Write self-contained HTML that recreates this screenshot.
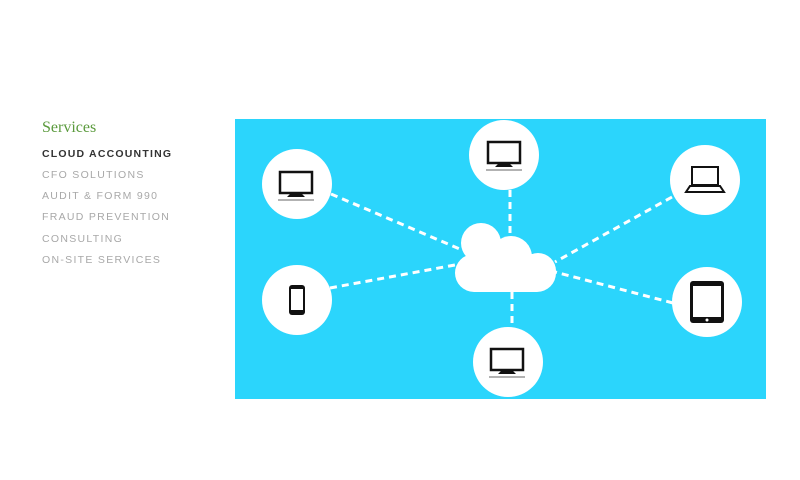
<!DOCTYPE html>
<html><head><meta charset="utf-8"><style>
html,body{margin:0;padding:0;background:#fff;width:800px;height:480px;overflow:hidden;font-family:"Liberation Sans",sans-serif}
.t{position:absolute;left:42px;top:119px;font-family:"Liberation Serif",serif;color:#5a9a3c;font-size:16px}
.m{position:absolute;left:42px;font-size:10.5px;letter-spacing:1.3px;color:#a8a8a8}
</style></head><body>
<div class="t">Services</div>
<div class="m" style="top:148px;color:#333;font-weight:bold;letter-spacing:1.2px">CLOUD ACCOUNTING</div>
<div class="m" style="top:169px">CFO SOLUTIONS</div>
<div class="m" style="top:190px">AUDIT &amp; FORM 990</div>
<div class="m" style="top:211px">FRAUD PREVENTION</div>
<div class="m" style="top:233px">CONSULTING</div>
<div class="m" style="top:254px">ON-SITE SERVICES</div>
<svg style="position:absolute;left:0;top:0" width="800" height="480">
<defs>
<g id="mon"><rect x="-16" y="-15" width="32" height="21" fill="#fff" stroke="#111" stroke-width="2.5"/><path d="M-5 6 L5 6 L9 10 L-9 10Z" fill="#111"/><path d="M-18 13 L18 13" stroke="#999" stroke-width="1.5"/></g>
</defs>
<rect x="235" y="119" width="531" height="280" fill="#2bd5fc"/>
<g stroke="#fff" stroke-width="3" stroke-dasharray="7,5" fill="none">
<line x1="331" y1="194" x2="462" y2="250"/>
<line x1="510" y1="190" x2="510" y2="235"/>
<line x1="672" y1="197" x2="555" y2="262"/>
<line x1="330" y1="288" x2="455" y2="265"/>
<line x1="673" y1="303" x2="555" y2="272"/>
<line x1="512" y1="292" x2="512" y2="327"/>
</g>
<g fill="#fff">
<circle cx="297" cy="184" r="35"/><circle cx="504" cy="155" r="35"/><circle cx="705" cy="180" r="35"/>
<circle cx="297" cy="300" r="35"/><circle cx="508" cy="362" r="35"/><circle cx="707" cy="302" r="35"/>
<circle cx="481" cy="243" r="20"/><circle cx="511" cy="257" r="21"/>
<rect x="455" y="254" width="101" height="38" rx="19"/>
<circle cx="538" cy="271" r="18"/>
</g>
<use href="#mon" x="296" y="187"/>
<use href="#mon" x="504" y="157"/>
<use href="#mon" x="507" y="364"/>
<g transform="translate(705,180)"><rect x="-13" y="-13" width="26" height="18" fill="none" stroke="#111" stroke-width="2"/><path d="M-15 6 L15 6 L19 12 L-19 12Z" fill="none" stroke="#111" stroke-width="2"/></g>
<g transform="translate(297,300)"><rect x="-8" y="-15" width="16" height="30" rx="3" fill="#111"/><rect x="-6" y="-11" width="12" height="21" fill="#fff"/></g>
<g transform="translate(707,302)"><rect x="-17" y="-21" width="34" height="42" rx="3" fill="#111"/><rect x="-14" y="-16" width="28" height="31" fill="#fff"/><circle cx="0" cy="18" r="1.5" fill="#fff"/></g>
</svg>
</body></html>
